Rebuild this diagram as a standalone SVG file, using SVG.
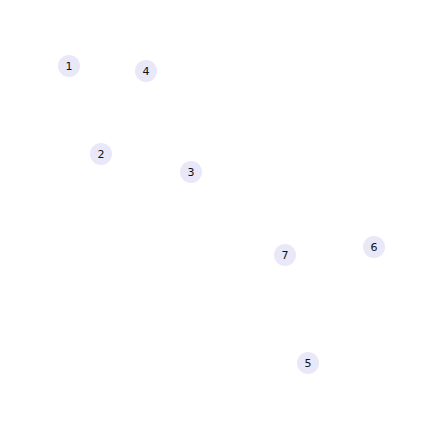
<svg xmlns="http://www.w3.org/2000/svg" width="432" height="432" viewBox="0 0 432 432">
<style>
.n circle{fill:#e8e8f8;stroke:none}
.n text{font-family:"DejaVu Sans",sans-serif;font-size:11px;fill:#111;text-anchor:middle;dominant-baseline:central}
</style>
<rect width="432" height="432" fill="#fff"/>
<g id="connectors"></g>
<g id="node1" class="n"><circle cx="69" cy="66" r="11"/><text x="69" y="66">1</text></g>
<g id="node4" class="n"><circle cx="146" cy="71" r="11"/><text x="146" y="71">4</text></g>
<g id="node2" class="n"><circle cx="101" cy="154" r="11"/><text x="101" y="154">2</text></g>
<g id="node3" class="n"><circle cx="191" cy="172" r="11"/><text x="191" y="172">3</text></g>
<g id="node7" class="n"><circle cx="285" cy="255" r="11"/><text x="285" y="255">7</text></g>
<g id="node6" class="n"><circle cx="374" cy="247" r="11"/><text x="374" y="247">6</text></g>
<g id="node5" class="n"><circle cx="308" cy="363" r="11"/><text x="308" y="363">5</text></g>
</svg>
